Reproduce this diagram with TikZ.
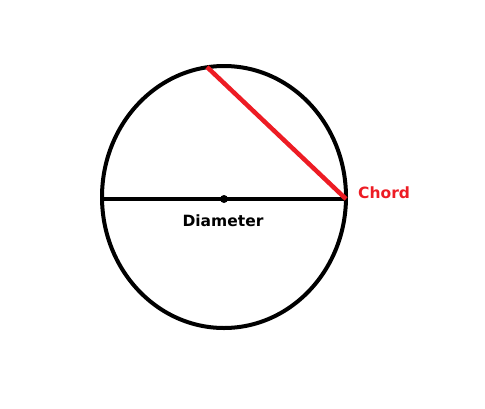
\documentclass[tikz,border=0pt]{standalone}
\usepackage{fontspec}
\setmainfont{DejaVu Sans}
\usepackage{xcolor}
\usepackage{tikz}
\usetikzlibrary{positioning}
\definecolor{paintred}{RGB}{237,28,36}

\begin{document}
\begin{tikzpicture}[x=1pt,y=-1pt,
    lbl/.style={font=\fontsize{15.5}{18}\selectfont\bfseries, inner sep=0pt}]
    \useasboundingbox (0,0) rectangle (485,408);
    % The circle
    \draw[line width=4pt] (224,197) ellipse [x radius=122, y radius=131];
    
    % Points on the circle
    \coordinate (centre) at (224,199);
    \coordinate (left) at (102,199);
    \coordinate (right) at (346,199);
    \coordinate (top) at (207,67);
    
    % Diameter and chord
    \draw[line width=4pt] (left) -- (right);
    \fill (centre) circle (4);
    \draw[paintred, line width=4.5pt] (top) -- (right);
    
    \node[lbl] (diam) at (223,221) {Diameter};
    \node[lbl, text=paintred, anchor=west] (chord) at (358,193) {Chord};
\end{tikzpicture}
\end{document}
